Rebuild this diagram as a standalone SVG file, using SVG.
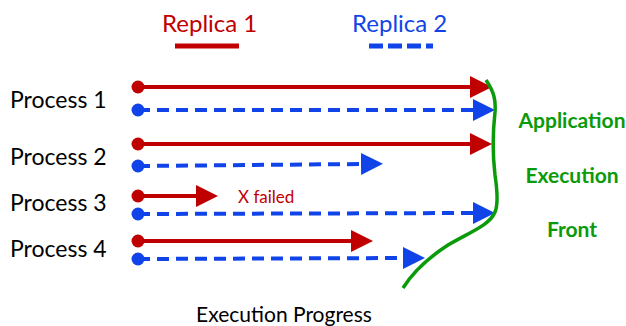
<svg xmlns="http://www.w3.org/2000/svg" width="626" height="326" viewBox="0 0 626 326">
<defs>
<style>
.lbl{font-family:Lato,"Open Sans","Liberation Sans",sans-serif;fill:#000}
.red{stroke:#C00000;stroke-width:4;fill:none}
.blue{stroke:#1144E8;stroke-width:4;fill:none;stroke-dasharray:12 7}
.rdot{fill:#C00000}
.bdot{fill:#1144E8}
.grn{font-family:Lato,"Open Sans","Liberation Sans",sans-serif;font-weight:bold;fill:#0A9A0A;font-size:21px;text-anchor:middle}
</style>
<marker id="ar" markerUnits="userSpaceOnUse" markerWidth="22" markerHeight="22" refX="0" refY="11" orient="auto" viewBox="0 0 22 22"><path d="M0,0 L22,11 L0,22 z" fill="#C00000"/></marker>
<marker id="ab" markerUnits="userSpaceOnUse" markerWidth="22" markerHeight="22" refX="0" refY="11" orient="auto" viewBox="0 0 22 22"><path d="M0,0 L22,11 L0,22 z" fill="#1144E8"/></marker>
</defs>
<g id="legend">
<text x="162" y="32" class="lbl" style="font-size:24px;fill:#C00000">Replica 1</text>
<line x1="175" y1="46" x2="239" y2="46" stroke="#C00000" stroke-width="5"/>
<text x="352" y="32" class="lbl" style="font-size:24px;fill:#1144E8">Replica 2</text>
<line x1="369" y1="46" x2="433" y2="46" stroke="#1144E8" stroke-width="5" stroke-dasharray="14 5"/>
</g>
<g id="process1"><text x="10" y="108" class="lbl" style="font-size:23px">Process 1</text></g>
<g id="process2"><text x="10" y="165" class="lbl" style="font-size:23px">Process 2</text></g>
<g id="process3"><text x="10" y="211" class="lbl" style="font-size:23px">Process 3</text></g>
<g id="process4"><text x="10" y="257" class="lbl" style="font-size:23px">Process 4</text></g>
<g id="connectors">
<line class="red" x1="138" y1="87" x2="470" y2="87" marker-end="url(#ar)"/>
<circle class="rdot" cx="138" cy="87" r="6.5"/>
<line class="blue" x1="138" y1="110" x2="473" y2="110" marker-end="url(#ab)"/>
<circle class="bdot" cx="138" cy="110" r="6.5"/>
<line class="red" x1="138" y1="144" x2="470" y2="144" marker-end="url(#ar)"/>
<circle class="rdot" cx="138" cy="144" r="6.5"/>
<line class="blue" x1="138" y1="166" x2="361" y2="164" marker-end="url(#ab)"/>
<circle class="bdot" cx="138" cy="166" r="6.5"/>
<line class="red" x1="138" y1="196" x2="196" y2="196" marker-end="url(#ar)"/>
<circle class="rdot" cx="138" cy="196" r="6.5"/>
<line class="blue" x1="138" y1="214" x2="473" y2="213" marker-end="url(#ab)"/>
<circle class="bdot" cx="138" cy="214" r="6.5"/>
<line class="red" x1="138" y1="241" x2="351" y2="241" marker-end="url(#ar)"/>
<circle class="rdot" cx="138" cy="241" r="6.5"/>
<line class="blue" x1="138" y1="259" x2="403" y2="258" marker-end="url(#ab)"/>
<circle class="bdot" cx="138" cy="259" r="6.5"/>
</g>
<text x="238" y="203" class="lbl" style="font-size:17px;fill:#C00000">X failed</text>
<g id="front">
<path d="M486,80 C494,92 496,100 495,112 C493,130 492,150 495,175 C498,195 498,205 495,212 C490,225 470,232 448,245 C428,258 413,272 403,288" fill="none" stroke="#0A9A0A" stroke-width="3.5"/>
<text x="572" y="128" class="grn">Application</text>
<text x="572" y="183" class="grn">Execution</text>
<text x="572" y="237" class="grn">Front</text>
</g>
<text x="284" y="322" class="lbl" style="font-size:21px;text-anchor:middle">Execution Progress</text>
</svg>
